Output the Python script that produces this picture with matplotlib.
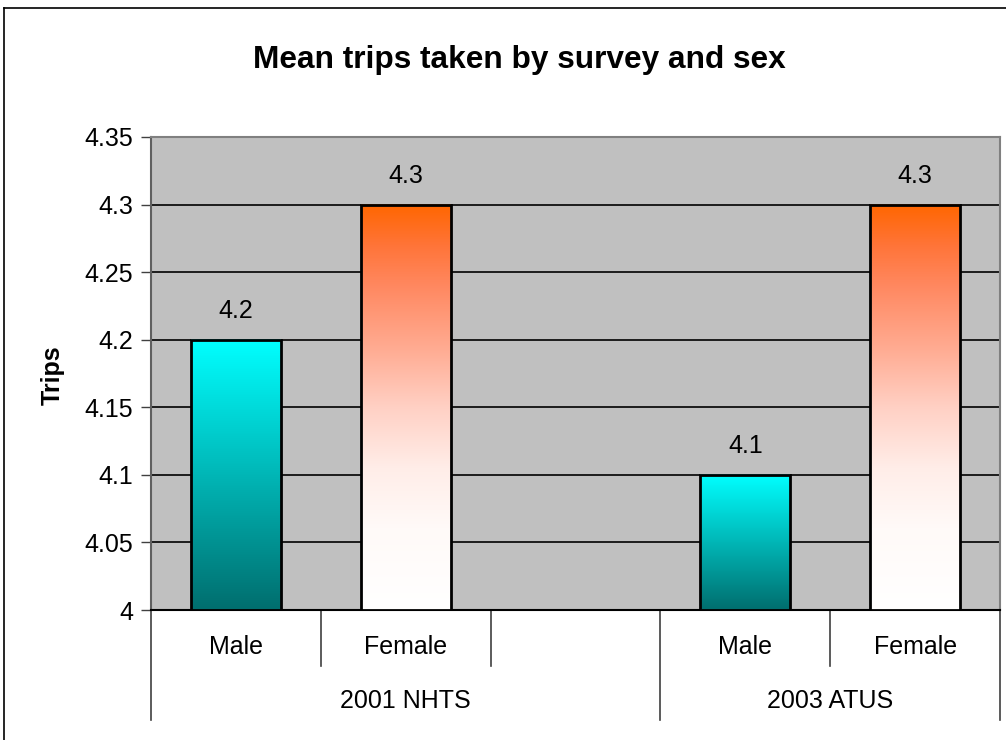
import numpy as np
import matplotlib
matplotlib.use('Agg')
from matplotlib import pyplot as plt
from matplotlib.colors import LinearSegmentedColormap
from matplotlib.lines import Line2D

plt.rcParams['font.family'] = ['Liberation Sans', 'DejaVu Sans']

# data
categories = ['Male', 'Female', '', 'Male', 'Female']
groups = ['2001 NHTS', '2003 ATUS']
group_spans = [(-0.5, 2.5), (2.5, 4.5)]
trips = [4.2, 4.3, None, 4.1, 4.3]
y_ticks = [4.0, 4.05, 4.1, 4.15, 4.2, 4.25, 4.3, 4.35]

W, H = 1006, 740
fig = plt.figure(figsize=(W / 100, H / 100), dpi=100)
fig.patch.set_facecolor('white')

# plot area in pixels: x 151..1000, y 137..610
ax = fig.add_axes([151 / W, (H - 610) / H, (1000 - 151) / W, (610 - 137) / H])
ax.set_facecolor('#C0C0C0')

male_cmap = LinearSegmentedColormap.from_list('male', ['#006E6E', '#00FFFF'])
female_cmap = LinearSegmentedColormap.from_list('female', [
    (0.0, '#FFFFFF'), (0.2, '#FFFAF8'), (0.35, '#FFEDE8'), (0.5, '#FFD0C4'),
    (0.65, '#FFAA90'), (0.8, '#FF8860'), (0.9, '#FF7438'), (1.0, '#FF6600')])

bar_w = 0.53
grad = np.linspace(0, 1, 256).reshape(-1, 1)
for i, (cat, val) in enumerate(zip(categories, trips)):
    if val is None:
        continue
    cmap = male_cmap if cat == 'Male' else female_cmap
    ax.imshow(grad, extent=(i - bar_w / 2, i + bar_w / 2, 4.0, val),
              origin='lower', cmap=cmap, aspect='auto', zorder=3)
    ax.bar(i, val - 4.0, bottom=4.0, width=bar_w, facecolor='none',
           edgecolor='black', linewidth=2, zorder=4)
    ax.annotate(f'{val:g}', xy=(i, val), xytext=(0, 29), textcoords='offset pixels',
                ha='center', va='center', fontsize=18, zorder=5)

ax.set_xlim(-0.5, 4.5)
ax.set_ylim(4.0, 4.35)

# gridlines
ax.set_yticks(y_ticks)
ax.set_yticklabels([f'{t:g}' for t in y_ticks], fontsize=18)
ax.yaxis.grid(True, color='black', linewidth=1.2)
ax.set_axisbelow(True)
ax.tick_params(axis='y', direction='out', length=7, width=1, color='#404040', pad=6)
ax.set_xticks([])

for s in ['top', 'right']:
    ax.spines[s].set_color('#808080')
    ax.spines[s].set_linewidth(1.5)
ax.spines['left'].set_color('#606060')
ax.spines['left'].set_linewidth(1.5)
ax.spines['bottom'].set_color('black')
ax.spines['bottom'].set_linewidth(1.5)

# two-level category axis
trans = ax.get_xaxis_transform()
for i, cat in enumerate(categories):
    if cat:
        ax.text(i, -0.078, cat, transform=trans, ha='center', va='center', fontsize=18)
long_b = {-0.5, 2.5, 4.5}
for b in np.arange(-0.5, 5.0, 1.0):
    y1 = -0.233 if b in long_b else -0.118
    ax.add_line(Line2D([b, b], [0, y1], transform=trans, color='#404040',
                       linewidth=1.2, clip_on=False))
for g, (a, b) in zip(groups, group_spans):
    ax.text((a + b) / 2, -0.192, g, transform=trans, ha='center', va='center', fontsize=18)

fig.text(53 / W, 1 - 375 / H, 'Trips', rotation=90, ha='center', va='center',
         fontsize=18, fontweight='bold')

fig.text(519 / W, 1 - 60 / H, 'Mean trips taken by survey and sex',
         ha='center', va='center', fontsize=22.8, fontweight='bold')

# chart border (left and top edges visible)
fig.add_artist(Line2D([4 / W, 4 / W], [0, 1 - 8 / H], transform=fig.transFigure,
                      color='black', linewidth=1.2))
fig.add_artist(Line2D([4 / W, 1], [1 - 8 / H, 1 - 8 / H], transform=fig.transFigure,
                      color='black', linewidth=1.2))

fig.savefig('out.png', dpi=100)
